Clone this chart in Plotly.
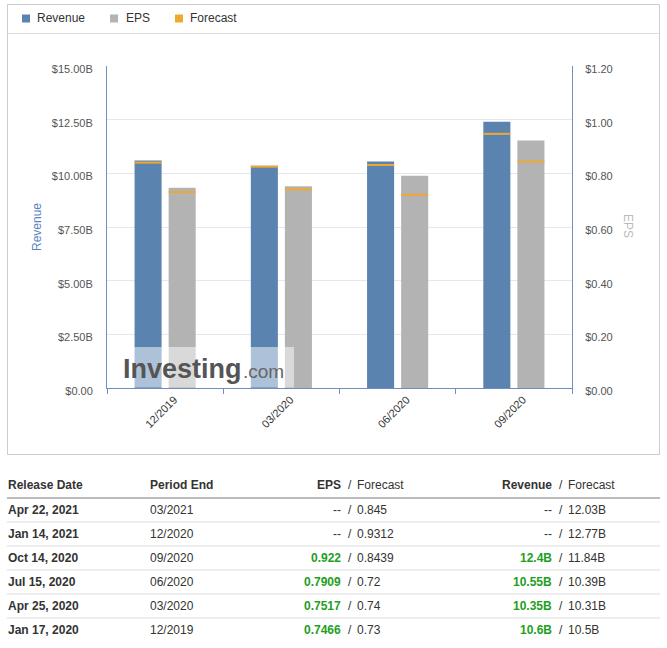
import plotly.graph_objects as go

# ---------------- data ----------------
periods = ["12/2019", "03/2020", "06/2020", "09/2020"]
revenue_b = [10.6, 10.35, 10.55, 12.4]
revenue_forecast_b = [10.5, 10.31, 10.39, 11.84]
eps = [0.7466, 0.7517, 0.7909, 0.922]
eps_forecast = [0.73, 0.74, 0.72, 0.8439]

revenue_tick_vals = [0, 2.5, 5, 7.5, 10, 12.5, 15]
revenue_tick_text = ["$0.00", "$2.50B", "$5.00B", "$7.50B", "$10.00B", "$12.50B", "$15.00B"]
eps_tick_vals = [0, 0.2, 0.4, 0.6, 0.8, 1.0, 1.2]
eps_tick_text = ["$0.00", "$0.20", "$0.40", "$0.60", "$0.80", "$1.00", "$1.20"]

release_dates = ["Apr 22, 2021", "Jan 14, 2021", "Oct 14, 2020",
                 "Jul 15, 2020", "Apr 25, 2020", "Jan 17, 2020"]
period_ends = ["03/2021", "12/2020", "09/2020", "06/2020", "03/2020", "12/2019"]
eps_actual = ["--", "--", "0.922", "0.7909", "0.7517", "0.7466"]
eps_fc = ["0.845", "0.9312", "0.8439", "0.72", "0.74", "0.73"]
rev_actual = ["--", "--", "12.4B", "10.55B", "10.35B", "10.6B"]
rev_fc = ["12.03B", "12.77B", "11.84B", "10.39B", "10.31B", "10.5B"]

# ---------------- style ----------------
W, H = 667, 648
L, R, T, B = 107, 572, 66, 388
BLUE = "#5b83b0"
AXIS = "#6f8fbf"
GRAY = "#b3b3b3"
ORANGE = "#f0a830"
GREEN = "#1ea01e"
TXT = "#333333"
FONT = "Liberation Sans, Arial, sans-serif"


def px(x):
    return (x - L) / (R - L)


def py(y):
    return (B - y) / (B - T)


fig = go.Figure()
fig.add_bar(x=periods, y=revenue_b, name="Revenue", marker_color=BLUE,
            marker_line_width=0, offsetgroup="rev", yaxis="y", showlegend=False)
fig.add_bar(x=periods, y=eps, name="EPS", marker_color=GRAY,
            marker_line_width=0, offsetgroup="eps", yaxis="y2", showlegend=False)
fig.add_scatter(x=periods, y=revenue_forecast_b, mode="markers", name="Forecast",
                marker=dict(symbol="line-ew", size=19.3, line=dict(color=ORANGE, width=2)),
                offsetgroup="rev", yaxis="y", showlegend=False)
fig.add_scatter(x=periods, y=eps_forecast, mode="markers", name="Forecast",
                marker=dict(symbol="line-ew", size=19.3, line=dict(color=ORANGE, width=2)),
                offsetgroup="eps", yaxis="y2", showlegend=False)

shapes = []
annots = []

# outer chart box and legend separator
shapes.append(dict(type="rect", xref="paper", yref="paper",
                   x0=px(7.5), x1=px(659.5), y0=py(454.5), y1=py(4.5),
                   line=dict(color="#cccccc", width=1), layer="below"))
shapes.append(dict(type="line", xref="paper", yref="paper",
                   x0=px(7.5), x1=px(659.5), y0=py(33.5), y1=py(33.5),
                   line=dict(color="#dddddd", width=1)))

# legend
legend_items = [("Revenue", BLUE, 22, 35), ("EPS", GRAY, 110, 124), ("Forecast", ORANGE, 175, 188)]
for label, col, sx, tx in legend_items:
    shapes.append(dict(type="rect", xref="paper", yref="paper",
                       x0=px(sx), x1=px(sx + 8), y0=py(22.5), y1=py(14.5),
                       fillcolor=col, line=dict(width=0)))
    annots.append(dict(text=label, xref="paper", yref="paper", x=px(tx), y=py(18.5),
                       xanchor="left", yanchor="middle", showarrow=False,
                       font=dict(size=12, color=TXT, family=FONT)))

# axis titles
annots.append(dict(text="Revenue", xref="paper", yref="paper", x=px(37), y=py(227),
                   textangle=-90, showarrow=False, xanchor="center", yanchor="middle",
                   font=dict(size=12, color="#5b83c0", family=FONT)))
annots.append(dict(text="EPS", xref="paper", yref="paper", x=px(628), y=py(226),
                   textangle=90, showarrow=False, xanchor="center", yanchor="middle",
                   font=dict(size=12, color="#bbbbbb", family=FONT)))

# watermark
shapes.append(dict(type="rect", xref="paper", yref="paper",
                   x0=px(122), x1=px(294), y0=py(387.5), y1=py(347),
                   fillcolor="white", opacity=0.5, line=dict(width=0), layer="above"))
annots.append(dict(text="<b>Investing</b>", xref="paper", yref="paper", x=px(121), y=py(369),
                   xanchor="left", yanchor="middle", showarrow=False,
                   font=dict(size=27, color="#555555", family=FONT)))
annots.append(dict(text=".com", xref="paper", yref="paper", x=px(241), y=py(371),
                   xanchor="left", yanchor="middle", showarrow=False,
                   font=dict(size=19, color="#666666", family=FONT)))

# ---------------- table ----------------
def cell(text, x, y, anchor="left", bold=False, color=TXT):
    t = f"<b>{text}</b>" if bold else text
    annots.append(dict(text=t, xref="paper", yref="paper", x=px(x), y=py(y),
                       xanchor=anchor, yanchor="middle", showarrow=False,
                       font=dict(size=12, color=color, family=FONT)))

HY = 485
cell("Release Date", 6, HY, bold=True)
cell("Period End", 148, HY, bold=True)
cell("EPS", 343, HY, anchor="right", bold=True)
cell("/", 349.5, HY, anchor="center")
cell("Forecast", 355, HY)
cell("Revenue", 554, HY, anchor="right", bold=True)
cell("/", 560.5, HY, anchor="center")
cell("Forecast", 566, HY)

shapes.append(dict(type="line", xref="paper", yref="paper",
                   x0=px(7), x1=px(660), y0=py(498), y1=py(498),
                   line=dict(color="#bbbbbb", width=2)))

for i in range(len(release_dates)):
    ry = 509.5 + 24 * i
    cell(release_dates[i], 6, ry, bold=True)
    cell(period_ends[i], 148, ry)
    ea = eps_actual[i]
    cell(ea, 343, ry, anchor="right", bold=(ea != "--"), color=(GREEN if ea != "--" else TXT))
    cell("/", 349.5, ry, anchor="center")
    cell(eps_fc[i], 355, ry)
    ra = rev_actual[i]
    cell(ra, 554, ry, anchor="right", bold=(ra != "--"), color=(GREEN if ra != "--" else TXT))
    cell("/", 560.5, ry, anchor="center")
    cell(rev_fc[i], 566, ry)
    if i < len(release_dates) - 1:
        sy = 522 + 24 * i
        shapes.append(dict(type="line", xref="paper", yref="paper",
                           x0=px(7), x1=px(660), y0=py(sy), y1=py(sy),
                           line=dict(color="#dddddd", width=1)))

fig.update_layout(
    width=W, height=H,
    margin=dict(l=L, r=W - R, t=T, b=H - B, pad=0),
    paper_bgcolor="white", plot_bgcolor="white",
    font=dict(family=FONT, color=TXT, size=11),
    barmode="group", bargap=0.414, bargroupgap=0.206,
    scattermode="group", scattergap=0.414,
    showlegend=False,
    shapes=shapes, annotations=annots,
    xaxis=dict(type="category", tickson="boundaries", ticks="outside", ticklen=5,
               tickcolor=AXIS, showline=True, linecolor=AXIS, linewidth=1,
               tickangle=-45, tickfont=dict(size=11, color=TXT), showgrid=False,
               ticklabelshift=9, range=[-0.5, 3.5]),
    yaxis=dict(range=[0, 15], tickmode="array", tickvals=revenue_tick_vals,
               ticktext=revenue_tick_text, showline=True, linecolor=AXIS, linewidth=1,
               gridcolor="#e6e6ec", zeroline=False, ticks="", ticklabelstandoff=11,
               ticklabelshift=3, tickfont=dict(size=11, color="#555555")),
    yaxis2=dict(range=[0, 1.2], tickmode="array", tickvals=eps_tick_vals,
                ticktext=eps_tick_text, overlaying="y",
                side="right", showline=True, linecolor=AXIS, linewidth=1, showgrid=False,
                zeroline=False, ticks="", ticklabelstandoff=10, ticklabelshift=3,
                tickfont=dict(size=11, color="#555555")),
)

fig.write_html("out.html", config={"displayModeBar": False},
               post_script="document.body.style.margin='0';document.body.style.overflow='hidden';")
